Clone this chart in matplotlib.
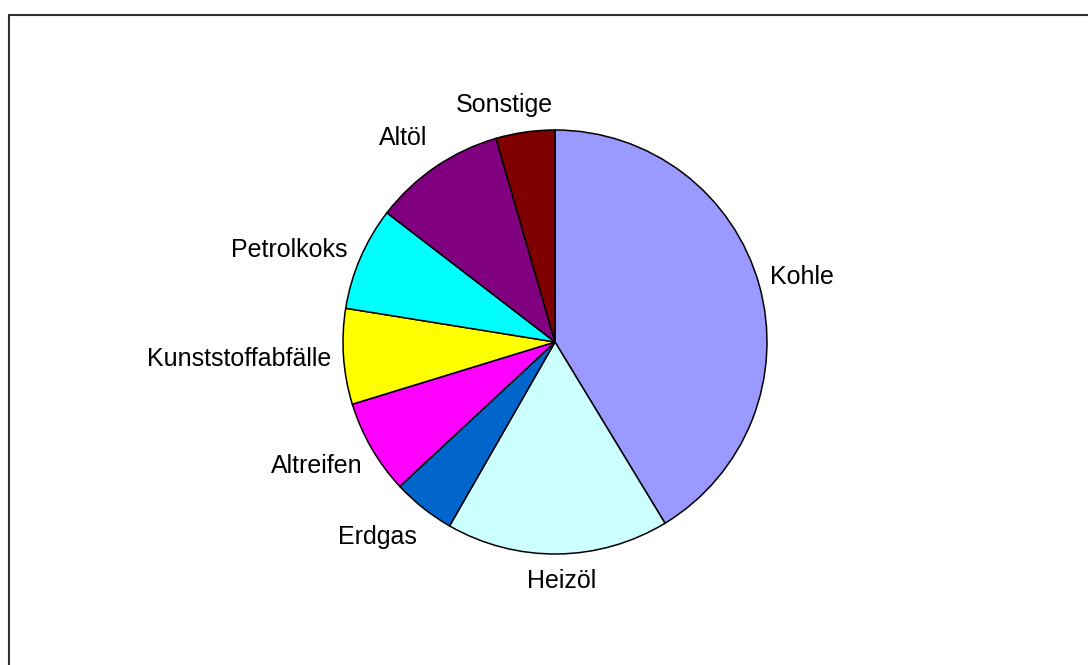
import numpy as np
import matplotlib.pyplot as plt
from matplotlib.patches import Rectangle

plt.rcParams['font.family'] = ['Liberation Sans', 'DejaVu Sans']

# Brennstoffanteile in Prozent
sources = ['Kohle', 'Heizöl', 'Erdgas', 'Altreifen', 'Kunststoffabfälle',
           'Petrolkoks', 'Altöl', 'Sonstige']
shares = [41.4, 17.0, 4.8, 7.2, 7.3, 7.9, 10.1, 4.5]
colors = ['#9999FF', '#CCFFFF', '#0066CC', '#FF00FF', '#FFFF00',
          '#00FFFF', '#800080', '#800000']

# small pixel shifts for the slice labels (x right, y down)
label_nudge = [(-2, 5), (4, 3), (-17, -7), (-5, -11), (0, -5),
               (-7, 20), (-12, 0), (-16, 3)]

W, H = 1088, 665
fig = plt.figure(figsize=(W / 100, H / 100), dpi=100)
ax = fig.add_axes([0, 0, 1, 1])

cx, cy, r = 555, H - 342, 212
wedges, _ = ax.pie(shares, colors=colors, startangle=90, counterclock=False,
                   center=(cx, cy), radius=r,
                   wedgeprops=dict(edgecolor='black', linewidth=1.1))
ax.set_xlim(0, W)
ax.set_ylim(0, H)
ax.set_aspect('equal')
ax.axis('off')

# outer chart border (only left/top edges fall inside the image)
ax.add_patch(Rectangle((9, -50), W + 100, H - 15 + 50, fill=False,
                       edgecolor='#303030', linewidth=1.5))

fig.canvas.draw()
renderer = fig.canvas.get_renderer()
gap = 12
for w, name, (nx, ny) in zip(wedges, sources, label_nudge):
    mid = np.deg2rad((w.theta1 + w.theta2) / 2)
    dx, dy = np.cos(mid), np.sin(mid)
    t = ax.text(0, 0, name, fontsize=18, ha='center', va='center')
    bb = t.get_window_extent(renderer)
    d = r + gap + abs(dx) * bb.width / 2 + abs(dy) * bb.height / 2
    t.set_position((cx + d * dx + nx, cy + d * dy - ny))

fig.savefig('out.png', dpi=100)
